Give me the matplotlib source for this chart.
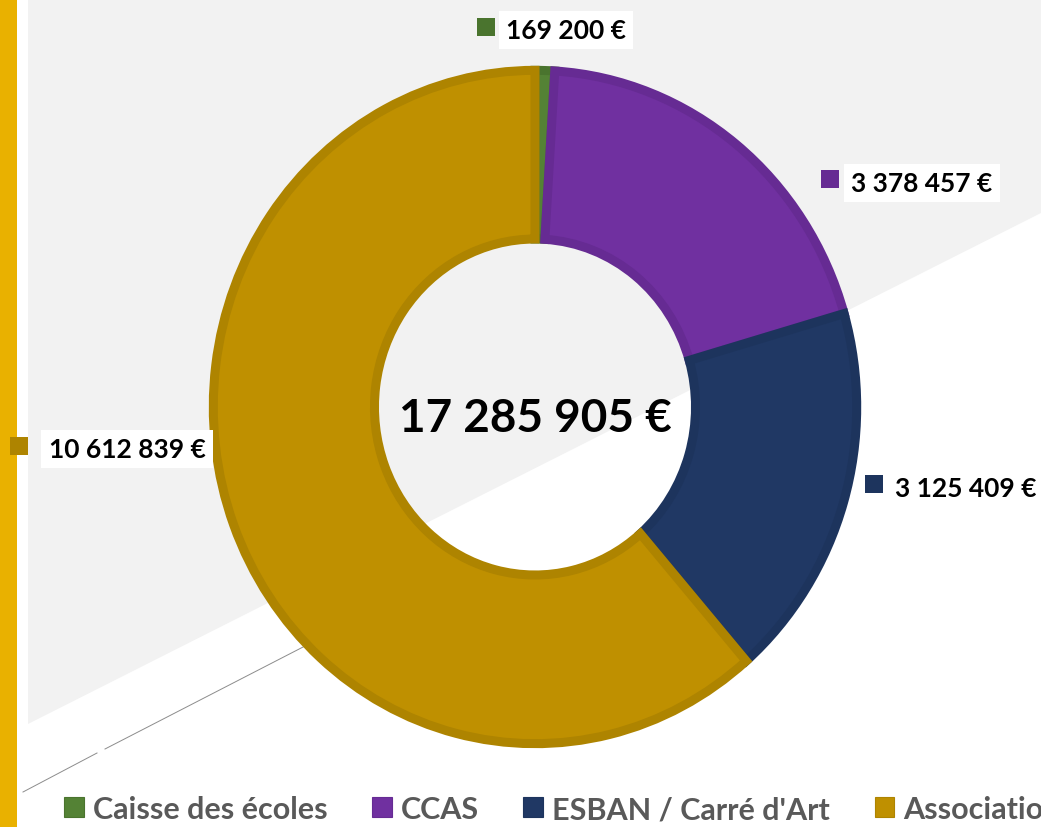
import matplotlib

matplotlib.use("Agg")
import matplotlib.pyplot as plt
from matplotlib.patches import Circle, Patch, Polygon, Rectangle

plt.rcParams["font.family"] = ["Lato", "DejaVu Sans"]

categories = ["Caisse des écoles", "CCAS", "ESBAN / Carré d'Art", "Associations"]
values = [169200, 3378457, 3125409, 10612839]
colors = ["#548235", "#7030A0", "#203864", "#BF9000"]
edge_colors = ["#4A742E", "#662B93", "#1D345D", "#AE8400"]

# label placement in donut units (outer radius = 1): text start / baseline, square marker
label_xy = [(-0.090, 1.092), (0.978, 0.639), (1.115, -0.263), (-1.505, -0.148)]
marker_xy = [(-0.153, 1.124), (0.913, 0.675), (1.050, -0.229), (-1.596, -0.114)]


def euro(v):
    return f"{v:,}".replace(",", " ") + " €"


fig = plt.figure(figsize=(10.41, 8.28), dpi=100)
fig.patch.set_facecolor("white")

# slide background: grey band, gold side bar, thin diagonal rule
bg = fig.add_axes([0, 0, 1, 1])
bg.set_xlim(0, 1041)
bg.set_ylim(828, 0)
bg.axis("off")
bg.add_patch(Polygon([(28, 0), (1041, 0), (1041, 214), (28, 725)],
                     closed=True, fc="#F2F2F2", ec="none"))
bg.add_patch(Rectangle((0, 0), 17, 828, fc="#E9B100", ec="none"))
bg.plot([305, 105], [647, 750], color="#8C8C8C", lw=0.7)
bg.plot([97, 23], [754, 793], color="#8C8C8C", lw=0.7)

ax = fig.add_axes([0, 0, 1, 1], facecolor="none")
wedges, _ = ax.pie(
    values,
    colors=colors,
    radius=0.996,
    startangle=90,
    counterclock=False,
    wedgeprops=dict(width=0.499, linewidth=6.5, joinstyle="miter"),
)
# darker border kept inside each wedge (outline clipped to the wedge itself)
for w, ec in zip(wedges, edge_colors):
    w.set_edgecolor(ec)
    w.set_clip_path(w)

# soft light-blue glow around the ring, behind the wedges
ax.add_patch(Circle((0, 0), 0.998, fill=False, ec="#C3D3EE", lw=2.2, zorder=0))
ax.add_patch(Circle((0, 0), 0.499, fill=False, ec="#C3D3EE", lw=2.2, zorder=0))

ax.set_aspect("auto")
ax.set_xlim(-535 / 323, (1041 - 535) / 323)
ax.set_ylim(-(828 - 408) / 338, 408 / 338)
ax.axis("off")

for v, c, (tx, ty), (mx, my) in zip(values, edge_colors, label_xy, marker_xy):
    ax.text(tx, ty, euro(v), fontsize=19, fontweight="bold", color="black",
            ha="left", va="baseline", zorder=5,
            bbox=dict(boxstyle="square,pad=0.28", fc="white", ec="none"))
    ax.scatter([mx], [my], s=165, marker="s", color=c, linewidths=0, zorder=6)

ax.text(0.0, -0.071, euro(sum(values)), fontsize=33, fontweight="bold",
        color="black", ha="center", va="baseline", zorder=5)

handles = [Patch(facecolor=c, edgecolor=e, linewidth=0.8) for c, e in zip(colors, edge_colors)]
fig.legend(
    handles,
    categories,
    loc="center left",
    bbox_to_anchor=(64 / 1041, 0.0217),
    ncol=4,
    frameon=False,
    handlelength=0.65,
    handleheight=0.65,
    handletextpad=0.3,
    columnspacing=1.45,
    borderpad=0,
    borderaxespad=0,
    prop=dict(family=["Lato", "DejaVu Sans"], weight="bold", size=22),
    labelcolor="#595959",
)

fig.savefig("out.png", dpi=100)
